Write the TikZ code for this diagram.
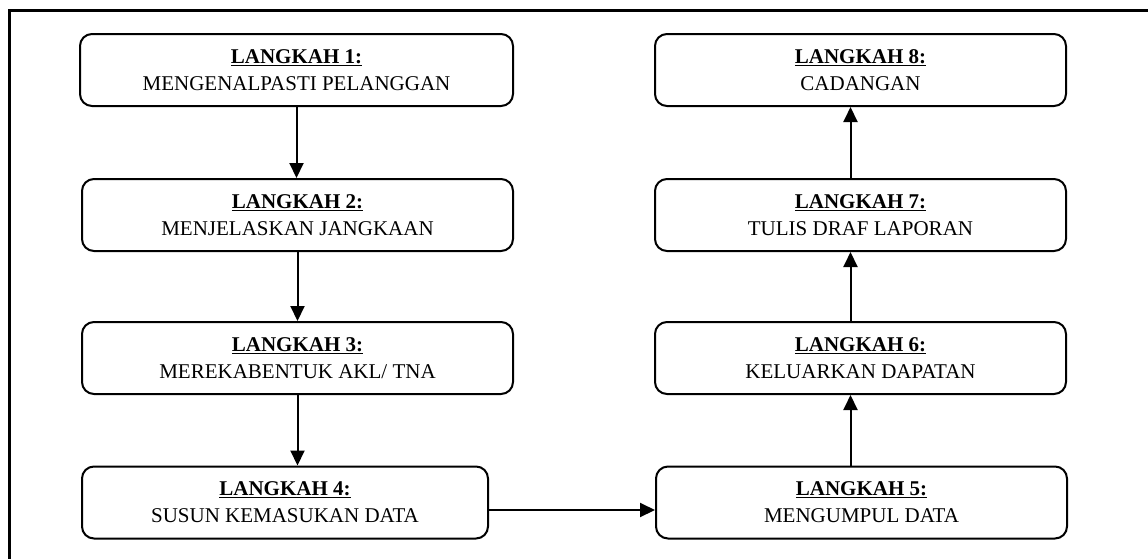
\documentclass[tikz,border=0pt]{standalone}
\usepackage{fontspec}
\setmainfont{Liberation Serif}
\usetikzlibrary{arrows.meta,calc}
\begin{document}
\begin{tikzpicture}[x=1pt,y=-1pt,
  stepbox/.style={draw, line width=2pt, rounded corners=12pt, minimum height=72pt,
    inner sep=0pt, align=center, font=\fontsize{21}{27}\selectfont},
  flow/.style={line width=2pt, -{Triangle[length=15pt,width=14pt]}}]
  \useasboundingbox (0,0) rectangle (1148,558);
  \begin{scope}
    \clip (0,0) rectangle (1148,558);
    \draw[line width=3pt] (9.5,10.5) rectangle (1200,600);
  \end{scope}

  % left column
  \node[stepbox, minimum width=433pt] (b1) at (296.5,70) {\underline{\textbf{LANGKAH 1:}}\\MENGENALPASTI PELANGGAN};
  \node[stepbox, minimum width=431pt] (b2) at (297.5,215) {\underline{\textbf{LANGKAH 2:}}\\MENJELASKAN JANGKAAN};
  \node[stepbox, minimum width=431pt] (b3) at (297.5,358) {\underline{\textbf{LANGKAH 3:}}\\MEREKABENTUK AKL/ TNA};
  \node[stepbox, minimum width=406pt] (b4) at (285,502.5) {\underline{\textbf{LANGKAH 4:}}\\SUSUN KEMASUKAN DATA};

  % right column
  \node[stepbox, minimum width=411pt] (b5) at (861.5,502.5) {\underline{\textbf{LANGKAH 5:}}\\MENGUMPUL DATA};
  \node[stepbox, minimum width=411pt] (b6) at (860.5,358) {\underline{\textbf{LANGKAH 6:}}\\KELUARKAN DAPATAN};
  \node[stepbox, minimum width=411pt] (b7) at (860.5,215) {\underline{\textbf{LANGKAH 7:}}\\TULIS DRAF LAPORAN};
  \node[stepbox, minimum width=411pt] (b8) at (860.5,70) {\underline{\textbf{LANGKAH 8:}}\\CADANGAN};

  % connectors
  \draw[flow] (b1.south) -- (b1.south |- b2.north);
  \draw[flow] (b2.south) -- (b2.south |- b3.north);
  \draw[flow] (b3.south) -- (b3.south |- b4.north);
  \draw[flow] ($(b4.east)+(0,7.5)$) -- ($(b5.west)+(0,7.5)$);
  \draw[flow] ($(b5.north)+(-11,0)$) -- ($(b5.north |- b6.south)+(-11,0)$);
  \draw[flow] ($(b6.north)+(-10,0)$) -- ($(b6.north |- b7.south)+(-10,0)$);
  \draw[flow] ($(b7.north)+(-10,0)$) -- ($(b7.north |- b8.south)+(-10,0)$);
\end{tikzpicture}
\end{document}
